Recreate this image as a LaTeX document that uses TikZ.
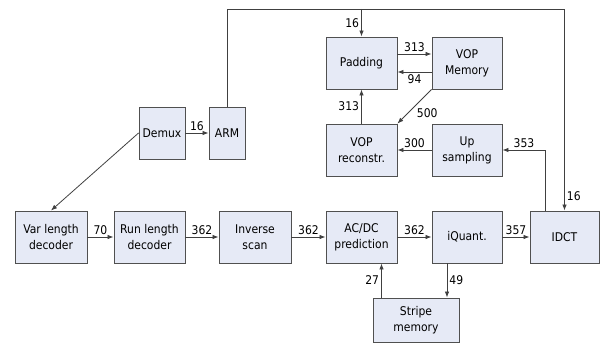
\documentclass[tikz,border=0pt]{standalone}
\usepackage{fontspec}
\setmainfont{DejaVu Sans}[FakeStretch=0.9]
\usepackage{xcolor}
\usetikzlibrary{arrows.meta, positioning, calc}

\definecolor{boxfill}{HTML}{E6EAF6}
\definecolor{boxline}{HTML}{505050}

\begin{document}
\begin{tikzpicture}[
      x=1pt, y=-1pt,
      font=\fontsize{12}{16}\selectfont,
      block/.style={rectangle, draw=boxline, fill=boxfill, line width=0.9pt,
        minimum height=52pt, inner sep=1pt, align=center},
      flow/.style={-{Latex[length=6pt, width=4.5pt]}, line width=0.8pt, draw=black!75},
      lbl/.style={inner sep=2pt, font=\fontsize{12}{14}\selectfont}
    ]
      \useasboundingbox (0,0) rectangle (600,345);
      % upper part
      \node[block, minimum width=46pt] (demux) at (162,133) {Demux};
      \node[block, minimum width=36pt] (arm) at (227,133) {ARM};
      \node[block, minimum width=71pt] (padding) at (361.5,63) {Padding};
      \node[block, minimum width=70pt] (vopmem) at (467,63) {VOP\\Memory};
      \node[block, minimum width=71pt] (voprec) at (361.5,150) {VOP\\reconstr.};
      \node[block, minimum width=70pt] (upsamp) at (467,150) {Up\\sampling};
      % decoding chain
      \node[block, minimum width=72pt] (vld) at (51,237) {Var length\\decoder};
      \node[block, minimum width=71pt] (rld) at (149.5,237) {Run length\\decoder};
      \node[block, minimum width=72pt] (iscan) at (255,237) {Inverse\\scan};
      \node[block, minimum width=71pt] (acdc) at (361.5,237) {AC/DC\\prediction};
      \node[block, minimum width=70pt] (iquant) at (467,237) {iQuant.};
      \node[block, minimum width=69pt] (idct) at (564.5,237) {IDCT};
      \node[block, minimum width=86pt, minimum height=44pt] (stripe) at (416,320) {Stripe\\memory};

      \coordinate (bus) at (0,9);
      \coordinate (s27) at ([xshift=20pt]acdc.south);
      \coordinate (s49) at ([xshift=-20pt]iquant.south);
      \coordinate (up353) at ([xshift=-19pt]idct.north);

      \draw[flow] (demux) -- node[lbl, above] {16} (arm);
      \draw[flow] (demux.west) -- (vld.north);
      \draw[flow] (arm.north) |- (bus -| idct.north) -- node[lbl, pos=0.93, right] {16} (idct.north);
      \draw[flow] (bus -| padding.north) -- node[lbl, left] {16} (padding.north);
      \draw[flow] ([yshift=9pt]padding.east) -- node[lbl, above] {313} ([yshift=9pt]vopmem.west);
      \draw[flow] ([yshift=-9pt]vopmem.west) -- node[lbl, below] {94} ([yshift=-9pt]padding.east);
      \draw[flow] (vopmem.south west) -- node[lbl, below right] {500} (voprec.north east);
      \draw[flow] (voprec) -- node[lbl, left] {313} (padding);
      \draw[flow] (upsamp) -- node[lbl, above] {300} (voprec);
      \draw[flow] (up353) |- node[lbl, pos=0.75, above] {353} (upsamp.east);

      \draw[flow] (vld) -- node[lbl, above] {70} (rld);
      \draw[flow] (rld) -- node[lbl, above] {362} (iscan);
      \draw[flow] (iscan) -- node[lbl, above] {362} (acdc);
      \draw[flow] (acdc) -- node[lbl, above] {362} (iquant);
      \draw[flow] (iquant) -- node[lbl, above] {357} (idct);
      \draw[flow] (s27 |- stripe.north) -- node[lbl, left] {27} (s27);
      \draw[flow] (s49) -- node[lbl, right] {49} (s49 |- stripe.north);
    \end{tikzpicture}
\end{document}
